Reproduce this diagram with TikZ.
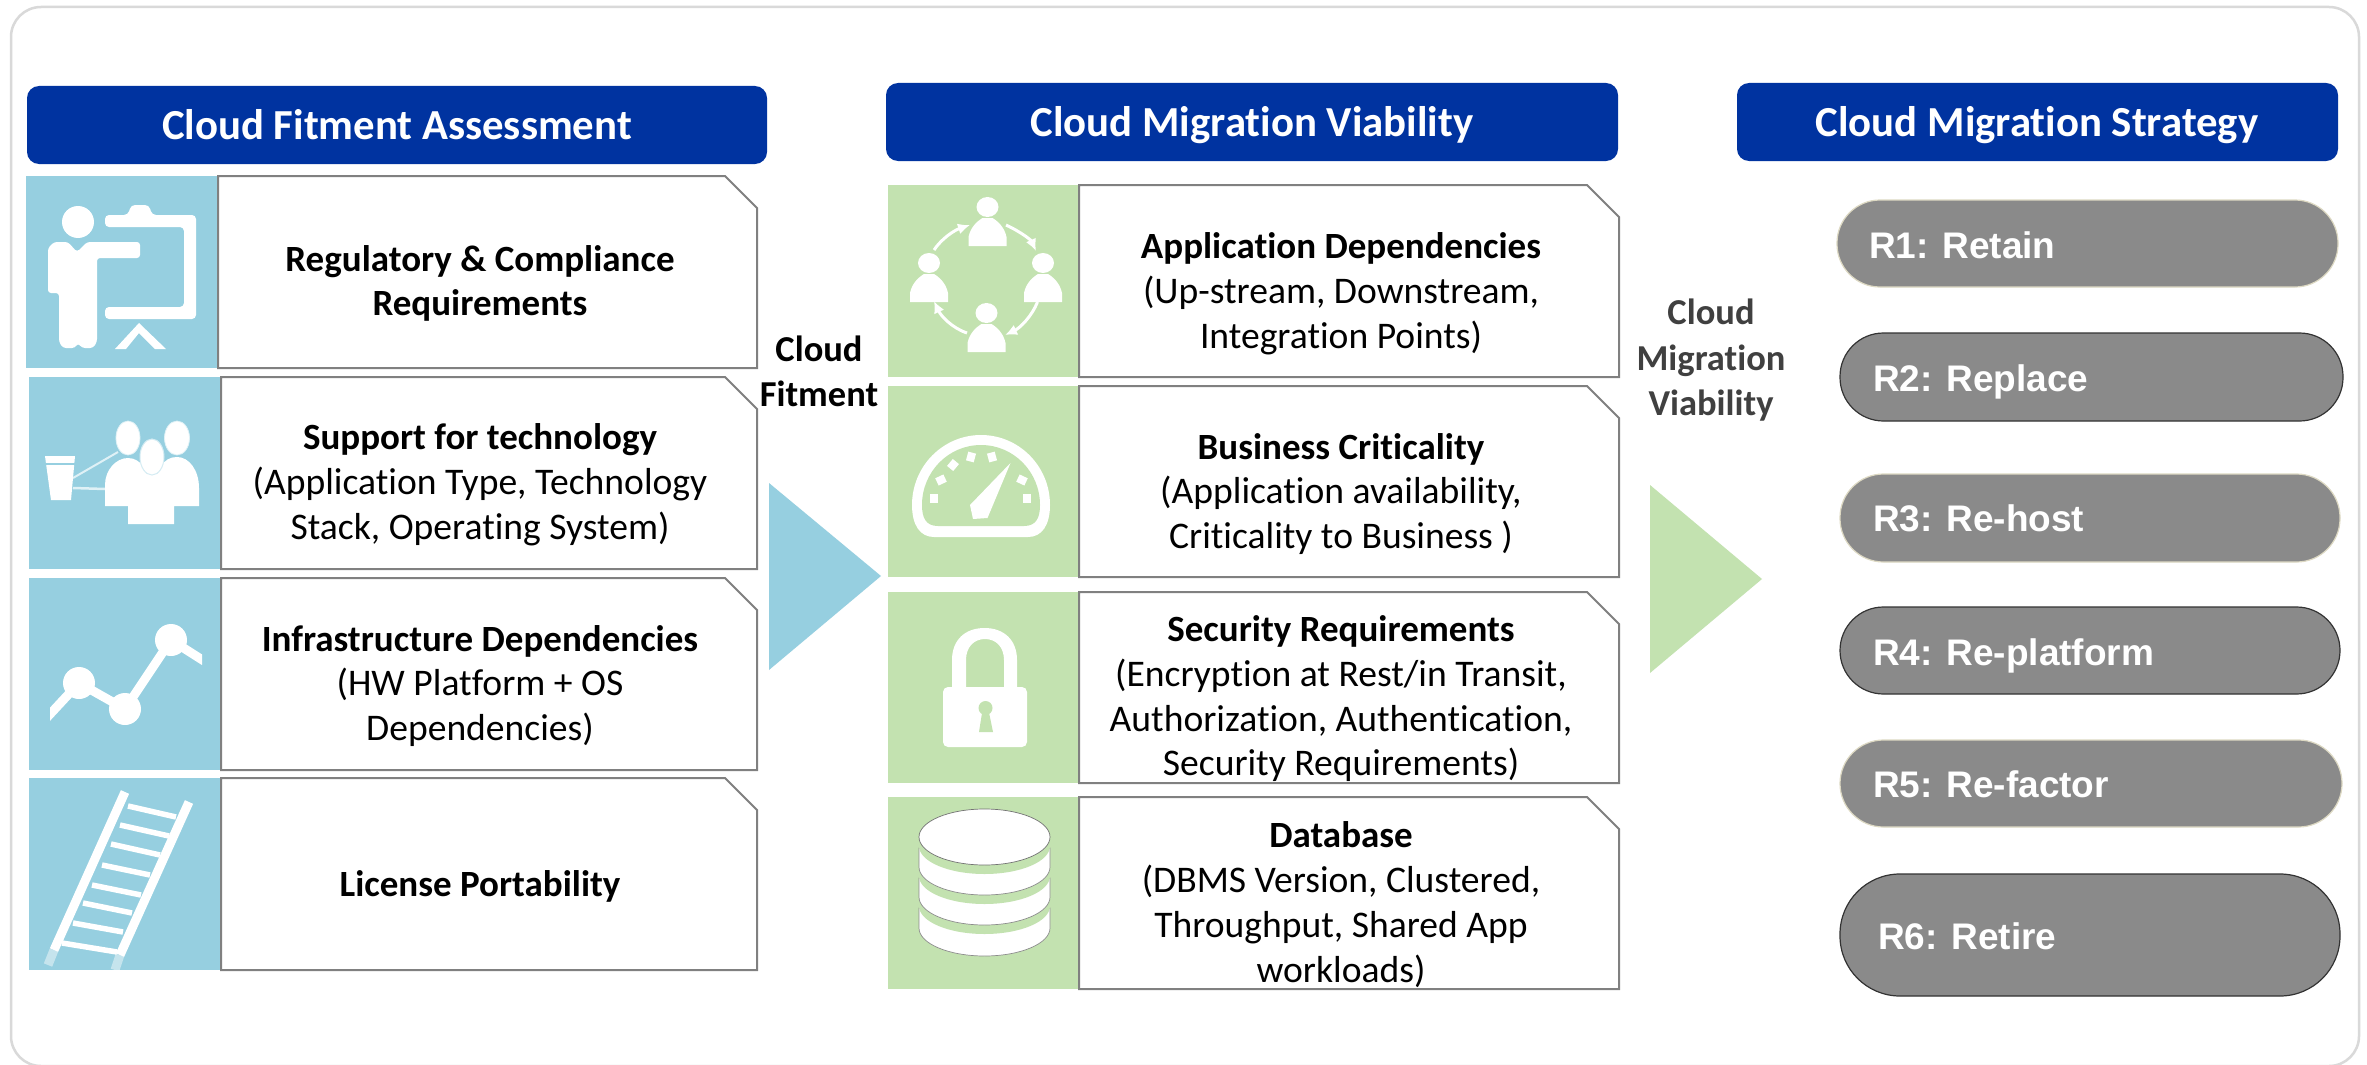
\documentclass[tikz,border=0pt]{standalone}
\usepackage{fontspec}
\setmainfont[Ligatures=NoCommon]{Carlito}
\newfontfamily\arialfont{Liberation Sans}
\usetikzlibrary{arrows.meta}
\definecolor{hdrblue}{HTML}{0033A0}
\definecolor{iconblue}{HTML}{96CFE0}
\definecolor{icongreen}{HTML}{C3E2B0}
\definecolor{pillgray}{HTML}{8A8A8A}
\definecolor{pillbeige}{HTML}{DDD9C3}
\definecolor{boxgray}{HTML}{808080}
\definecolor{framegray}{HTML}{D9D9D9}
\definecolor{labelgray}{HTML}{404040}
\newcommand{\bt}[1]{{\fontsize{37}{44.7}\selectfont\bfseries #1}}
\tikzset{
  frameline/.style={draw=framegray,line width=2.5pt,rounded corners=30pt},
  header/.style={fill=hdrblue,rounded corners=12pt},
  headertext/.style={text=white,font=\fontsize{42.8}{48}\selectfont\bfseries,inner sep=0pt},
  snipbox/.style={draw=boxgray,fill=white,line width=2pt,line join=miter},
  bodytext/.style={align=center,inner sep=0pt,font=\fontsize{37.6}{44.7}\selectfont},
  sidelabel/.style={align=center,inner sep=0pt,font=\fontsize{36.5}{45.5}\selectfont\bfseries},
  pillA/.style={fill=pillgray,draw=pillbeige,line width=1.2pt},
  pillB/.style={fill=pillgray,draw=black!80,line width=1.2pt},
  pilltext/.style={text=white,anchor=west,inner sep=0pt,font=\fontsize{37}{44}\selectfont\arialfont\bfseries},
  person/.pic={
    \fill[white] (0,0) ellipse [x radius=11pt,y radius=10pt];
    \fill[white] (-19,39) -- (-19,30) .. controls (-17,20) and (-10,14) .. (-5,11) -- (5,11) .. controls (10,14) and (17,20) .. (19,30) -- (19,39) -- cycle;
  },
  circarrow/.style={draw=white,line width=3pt,-{Latex[length=12pt,width=11pt]}}
}
\newcommand{\rowbox}[6]{%
  \fill[#6] (#1,#2) rectangle (#3,#4);
  \path[snipbox] (#3,#2) -- (#5-32,#2) -- (#5,#2+32) -- (#5,#4) -- (#3,#4) -- cycle;
}
\begin{document}
\begin{tikzpicture}[x=1pt,y=-1pt]
\useasboundingbox (0,0) rectangle (2367,1065);
\fill[white] (0,0) rectangle (2367,1065);
\draw[frameline] (11,7) rectangle (2359,1066);

% Headers
\fill[header] (27,86) rectangle (767,164);
\node[headertext] (h1) at (397,125) {Cloud Fitment Assessment};
\fill[header] (886,83) rectangle (1618,161);
\node[headertext] (h2) at (1252,125) {Cloud Migration Viability};
\fill[header] (1737,83) rectangle (2338,161);
\node[headertext] (h3) at (2037,125) {Cloud Migration Strategy};

% Left rows
\rowbox{26}{176}{218}{368}{757}{iconblue}
\rowbox{29}{377}{221}{569}{757}{iconblue}
\rowbox{29}{578}{221}{770}{757}{iconblue}
\rowbox{29}{778}{221}{970}{757}{iconblue}
\node[bodytext] (l1) at (480,284.5) {\strut\bt{Regulatory \& Compliance}\\\bt{Requirements}\strut};
\node[bodytext] (l2) at (480,485.5) {\strut\bt{Support for technology}\\(Application Type, Technology\\Stack, Operating System)\strut};
\node[bodytext] (l3) at (480,687) {\strut\bt{Infrastructure Dependencies}\\(HW Platform + OS\\Dependencies)\strut};
\node[bodytext] (l4) at (480,888) {\strut\bt{License Portability}\strut};

% Middle rows
\rowbox{888}{185}{1079}{377}{1619}{icongreen}
\rowbox{888}{386}{1079}{577}{1619}{icongreen}
\rowbox{888}{592}{1079}{783}{1619}{icongreen}
\rowbox{888}{797}{1079}{989}{1619}{icongreen}
\node[bodytext] (m1) at (1341,294.5) {\strut\bt{Application Dependencies}\\(Up-stream, Downstream,\\Integration Points)\strut};
\node[bodytext] (m2) at (1341,495) {\strut\bt{Business Criticality}\\(Application availability,\\Criticality to Business )\strut};
\node[bodytext] (m3) at (1341,700) {\strut\bt{Security Requirements}\\(Encryption at Rest/in Transit,\\Authorization, Authentication,\\Security Requirements)\strut};
\node[bodytext] (m4) at (1341,906) {\strut\bt{Database}\\(DBMS Version, Clustered,\\Throughput, Shared App\\workloads)\strut};

% Triangles and side labels
\fill[iconblue] (769,483) -- (881,576) -- (769,670) -- cycle;
\fill[icongreen] (1650,485) -- (1762,579) -- (1650,673) -- cycle;
\node[sidelabel] (s1) at (819,375) {\strut Cloud\\Fitment\strut};
\node[sidelabel,text=labelgray] (s2) at (1711,361) {\strut Cloud\\Migration\\Viability\strut};

% Pills
\path[pillA,rounded corners=43pt] (1837,200) rectangle (2338,287);
\path[pillB,rounded corners=43.5pt] (1840,333) rectangle (2343,421);
\path[pillA,rounded corners=43.5pt] (1840,474) rectangle (2340,562);
\path[pillB,rounded corners=43.5pt] (1840,607) rectangle (2340,694);
\path[pillA,rounded corners=43.5pt] (1840,740) rectangle (2342,827);
\path[pillB,rounded corners=60pt] (1840,874) rectangle (2340,996);
\node[pilltext] (r1) at (1869,250) {\strut R1: Retain};
\node[pilltext] (r2) at (1873,383) {\strut R2: Replace};
\node[pilltext] (r3) at (1873,523) {\strut R3: Re-host};
\node[pilltext] (r4) at (1873,657) {\strut R4: Re-platform};
\node[pilltext] (r5) at (1873,789) {\strut R5: Re-factor};
\node[pilltext] (r6) at (1878,941) {\strut R6: Retire};

% Icon 1: presenter
\fill[white] (78,222) circle (16pt);
\fill[white,rounded corners=3pt] (48,293) -- (48,248) -- (54,242) -- (68,242) -- (77,252) -- (87,242) -- (140,242) -- (140,258) -- (97,258) -- (97,342) -- (93,348) -- (82,348) -- (78,343) -- (75,348) -- (63,348) -- (59,342) -- (59,293) -- cycle;
\fill[white,rounded corners=4pt] (105,215) -- (128,215) -- (131,205) -- (149,205) -- (152,215) -- (196,215) -- (196,319) -- (105,319) -- (105,307) -- (184,307) -- (184,227) -- (105,227) -- cycle;
\fill[white] (139,323) -- (166,349) -- (155,349) -- (139,333) -- (126,349) -- (115,349) -- cycle;

% Icon 2: group and cup
\draw[white!70!iconblue,line width=2pt] (73,478) -- (118,452);
\draw[white!70!iconblue,line width=2.5pt] (73,488) -- (105,489);
\fill[white] (45,456) -- (75,456) -- (71,500) -- (51,500) -- cycle;
\draw[iconblue,line width=1.2pt] (45,464) -- (75,464);
\fill[white] (105,506) -- (105,485) .. controls (105,470) and (116,458) .. (128,458) .. controls (135,458) and (140,462) .. (143,466) -- (147,474) -- (157,474) -- (161,466) .. controls (165,460) and (170,457) .. (177,457) .. controls (189,457) and (199,470) .. (199,488) -- (199,506) -- (174,506) -- (174,524) -- (128,524) -- (128,506) -- cycle;
\fill[white,draw=white!70!iconblue,line width=.8pt] (128,438) ellipse [x radius=12pt,y radius=17pt];
\fill[white,draw=white!70!iconblue,line width=.8pt] (177,438) ellipse [x radius=12.5pt,y radius=17pt];
\fill[white,draw=white!60!iconblue,line width=1pt] (152,457) ellipse [x radius=12pt,y radius=18pt];

% Icon 3: graph
\begin{scope}
\clip (50,600) rectangle (202,760);
\draw[white,line width=9pt] (40,725) -- (79,683) -- (125,709) -- (171,640) -- (215,668);
\end{scope}
\fill[white] (79,683) ellipse [x radius=16pt,y radius=16pt];
\fill[white] (125,709) ellipse [x radius=16pt,y radius=16pt];
\fill[white] (171,640) ellipse [x radius=16pt,y radius=16pt];

% Icon 4: ladder
\draw[white,line width=9pt] (125,792) -- (54,950);
\draw[white,line width=9pt] (189,802) -- (120,955);
\draw[white,opacity=.45,line width=9pt] (54,950) -- (48,965);
\draw[white,opacity=.45,line width=9pt] (120,955) -- (115,970);
\foreach \lx/\ly/\rx/\ry in {128/806/176/817,120/825/169/836,111/844/160/855,102/865/150/875,92/885/141/895,83/903/132/913,73/923/123/932,62/943/117/952}
  \draw[white,line width=5.5pt] (\lx,\ly) -- (\rx,\ry);

% Icon 5: people in a ring
\pic at (987.5,207) {person};
\pic at (1043,263) {person};
\pic at (929,263) {person};
\pic at (986.5,313) {person};
\path[circarrow] (1006,225) .. controls (1021,232) and (1031,240) .. (1036,251);
\path[circarrow] (1037.5,302) .. controls (1032,316) and (1020,328) .. (1005,335);
\path[circarrow] (967,333) .. controls (952,328) and (941,316) .. (934,301);
\path[circarrow] (934,250) .. controls (942,238) and (955,230) .. (970,225);

% Icon 6: gauge
\fill[white] (912,505) arc[start angle=180,end angle=0,x radius=69pt,y radius=70pt] .. controls (1050,525) and (1042,537) .. (1028,537) -- (934,537) .. controls (920,537) and (912,525) .. (912,505) -- cycle;
\fill[icongreen] (922,505) arc[start angle=180,end angle=0,x radius=59pt,y radius=60pt] .. controls (1040,518) and (1036,526) .. (1024,526) -- (938,526) .. controls (926,526) and (922,518) .. (922,505) -- cycle;
\foreach \tx/\ty/\tr in {934/498/0,941/480/-65,953/465/-40,971/457/-15,992/457/15,1022/480/65,1027/498/0}
  \fill[white,rotate around={\tr:(\tx,\ty)}] (\tx-4,\ty-4.5) rectangle (\tx+4,\ty+4.5);
\fill[white] (1010.5,463) -- (970,505) -- (973,519) -- (987.5,518) -- cycle;

% Icon 7: lock
\fill[white] (952,690) -- (952,660) .. controls (952,640) and (965,628) .. (984.5,628) .. controls (1004,628) and (1017,640) .. (1017,660) -- (1017,690) -- (1004,690) -- (1004,660) .. controls (1004,647) and (996,639) .. (985,639) .. controls (974,639) and (966,647) .. (966,660) -- (966,690) -- cycle;
\fill[white,rounded corners=5pt] (943,687) rectangle (1027,747);
\fill[icongreen] (985.5,708) circle (7pt);
\fill[icongreen] (982.5,710) -- (988.5,710) -- (993,732) -- (979,732) -- cycle;

% Icon 8: database
\foreach \t/\b in {908/928,878/897,848/867}{
  \path[fill=white,draw=black!45,line width=.7pt] (919,\t) -- (919,\b) arc[start angle=180,end angle=360,x radius=65.5pt,y radius=28pt] -- (1050,\t) -- cycle;
  \path[fill=icongreen] (984.5,\t-2) ellipse [x radius=65.5pt,y radius=28pt];
}
\path[fill=white,draw=black!55,line width=.7pt] (984.5,837) ellipse [x radius=65.5pt,y radius=28pt];
\end{tikzpicture}
\end{document}
